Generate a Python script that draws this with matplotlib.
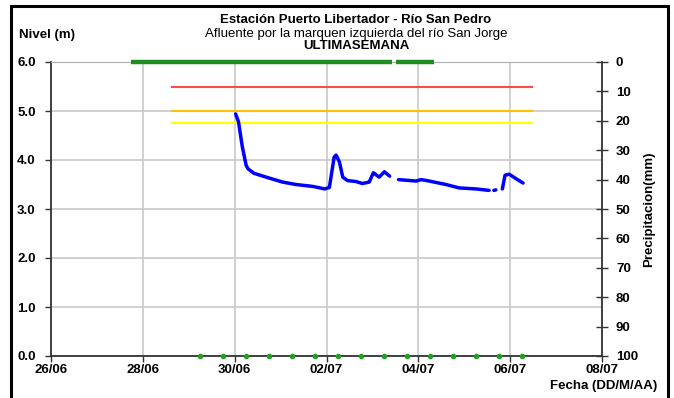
import pandas as pd
import numpy as np
import matplotlib
matplotlib.use("Agg")
import matplotlib.pyplot as plt
import matplotlib.dates as mdates
from matplotlib.patches import Rectangle

plt.rcParams["font.family"] = ["Liberation Sans", "DejaVu Sans"]

# ---- data ----
level_times = [
    "2011-06-30 00:30", "2011-06-30 02:00", "2011-06-30 04:00", "2011-06-30 06:00",
    "2011-06-30 07:00", "2011-06-30 10:00", "2011-06-30 16:30", "2011-07-01 01:00",
    "2011-07-01 08:00", "2011-07-01 17:00", "2011-07-01 23:00", "2011-07-02 01:30",
    "2011-07-02 04:00", "2011-07-02 05:00", "2011-07-02 06:45", "2011-07-02 08:30",
    "2011-07-02 11:00", "2011-07-02 15:30", "2011-07-02 18:45", "2011-07-02 22:20",
    "2011-07-03 00:30", "2011-07-03 03:30", "2011-07-03 06:15", "2011-07-03 09:00",
    "2011-07-03 11:00",
    "2011-07-03 13:40", "2011-07-03 22:50", "2011-07-04 01:30", "2011-07-04 05:45",
    "2011-07-04 14:25", "2011-07-04 21:20", "2011-07-05 06:00", "2011-07-05 13:00",
    "2011-07-05 14:00",
    "2011-07-05 15:30", "2011-07-05 16:30",
    "2011-07-05 18:00",
    "2011-07-05 19:55", "2011-07-05 21:20", "2011-07-05 23:30", "2011-07-06 03:00",
    "2011-07-06 06:45",
]
level_values = [
    4.94, 4.78, 4.27, 3.89,
    3.82, 3.73, 3.65, 3.55,
    3.50, 3.46, 3.41, 3.44,
    4.06, 4.10, 3.96, 3.65,
    3.58, 3.56, 3.52, 3.55,
    3.74, 3.65, 3.76, 3.67,
    np.nan,
    3.60, 3.57, 3.60, 3.57,
    3.50, 3.43, 3.41, 3.38,
    np.nan,
    3.38, 3.39,
    np.nan,
    3.41, 3.69, 3.71, 3.62,
    3.53,
]

# precipitation records (all 0 mm) shown as periods on the right axis
precip_start = ["2011-06-27 18:00", "2011-07-03 12:30"]
precip_end = ["2011-07-03 10:00", "2011-07-04 08:00"]

# points drawn on the bottom of the level axis
bottom_times = [
    "2011-06-29 06:00", "2011-06-29 18:00", "2011-06-30 06:00", "2011-06-30 18:00",
    "2011-07-01 06:00", "2011-07-01 18:00", "2011-07-02 06:00", "2011-07-02 18:00",
    "2011-07-03 06:00", "2011-07-03 18:00", "2011-07-04 06:00", "2011-07-04 18:00",
    "2011-07-05 06:00", "2011-07-05 18:00", "2011-07-06 06:00",
]
bottom_values = [0.0] * 15

# alert thresholds
alert_levels = [5.5, 5.0, 4.75]
alert_colors = ["#ff4a4a", "#ffc000", "#ffff00"]
alert_span = ["2011-06-28 15:00", "2011-07-06 11:30"]

x_ticks = pd.date_range("2011-06-26", "2011-07-08", freq="2D")

# ---- figure ----
fig = plt.figure(figsize=(6.74, 3.98), dpi=100)
ax = fig.add_axes([51 / 674, 1 - 356 / 398, 551 / 674, 294 / 398])

t_level = pd.to_datetime(level_times)
t_bottom = pd.to_datetime(bottom_times)
span = pd.to_datetime(alert_span)

for lvl, col in zip(alert_levels, alert_colors):
    ax.plot(span, [lvl, lvl], color=col, lw=1.5, zorder=3)

ax.plot(t_level, level_values, color="#0000ff", lw=2.5, zorder=4,
        solid_capstyle="round", solid_joinstyle="round")

ax.plot(t_bottom, bottom_values, ls="none", marker="o", ms=3,
        color="#22a022", clip_on=False, zorder=5)

ax.set_ylim(0, 6)
ax.set_yticks(np.arange(0, 7, 1))
ax.set_yticklabels([f"{v:.1f}" for v in np.arange(0, 7, 1)],
                   fontweight="bold", fontsize=9.5)
ax.set_xlim(x_ticks[0], x_ticks[-1])
ax.set_xticks(x_ticks)
ax.xaxis.set_major_formatter(mdates.DateFormatter("%d/%m"))
for lab in ax.get_xticklabels():
    lab.set_fontweight("bold")
    lab.set_fontsize(9.5)

ax.grid(True, color="#c8c8c8", lw=1.2)
ax.set_axisbelow(True)
ax.tick_params(axis="both", length=4, width=1, color="#333333", pad=2)
ax.tick_params(axis="y", pad=7)
for side in ["left", "bottom"]:
    ax.spines[side].set_color("#333333")
    ax.spines[side].set_linewidth(1.3)
ax.spines["top"].set_color("#b0b0b0")
ax.spines["right"].set_visible(False)

# precipitation axis
ax2 = ax.twinx()
ax2.set_ylim(100, 0)
ax2.set_yticks(np.arange(0, 101, 10))
ax2.set_yticklabels([str(v) for v in range(0, 101, 10)],
                    fontweight="bold", fontsize=9.5)
ax2.tick_params(axis="y", direction="inout", length=8, width=1,
                color="#333333", pad=6)
ax2.spines["right"].set_color("#333333")
ax2.spines["right"].set_linewidth(1.3)
for side in ["left", "top", "bottom"]:
    ax2.spines[side].set_visible(False)

for s, e in zip(pd.to_datetime(precip_start), pd.to_datetime(precip_end)):
    ax2.plot([s, e], [0, 0], color="#1e8c1e", lw=3.2, clip_on=False, zorder=5,
             solid_capstyle="butt")

ax2.set_ylabel("Precipitacion(mm)", fontweight="bold", fontsize=9.5, labelpad=4)

# texts
fig.text(356 / 674, 1 - 20 / 398, "Estación Puerto Libertador - Río San Pedro",
         ha="center", va="center", fontweight="bold", fontsize=9.5)
fig.text(356 / 674, 1 - 34 / 398, "Afluente por la marquen izquierda del río San Jorge",
         ha="center", va="center", fontsize=9.5)
fig.text(356 / 674, 1 - 46 / 398, "ULTIMASEMANA",
         ha="center", va="center", fontweight="bold", fontsize=9.5)
fig.text(19 / 674, 1 - 35 / 398, "Nivel (m)",
         ha="left", va="center", fontweight="bold", fontsize=9.5)
fig.text(657 / 674, 1 - 386 / 398, "Fecha (DD/M/AA)",
         ha="right", va="center", fontweight="bold", fontsize=9.5)

# outer frame
fig.patches.append(Rectangle((11 / 674, -0.05), 657 / 674, 1.05 - 6 / 398,
                             transform=fig.transFigure, fill=False,
                             edgecolor="black", lw=2.2))

fig.savefig("out.png", dpi=100)
